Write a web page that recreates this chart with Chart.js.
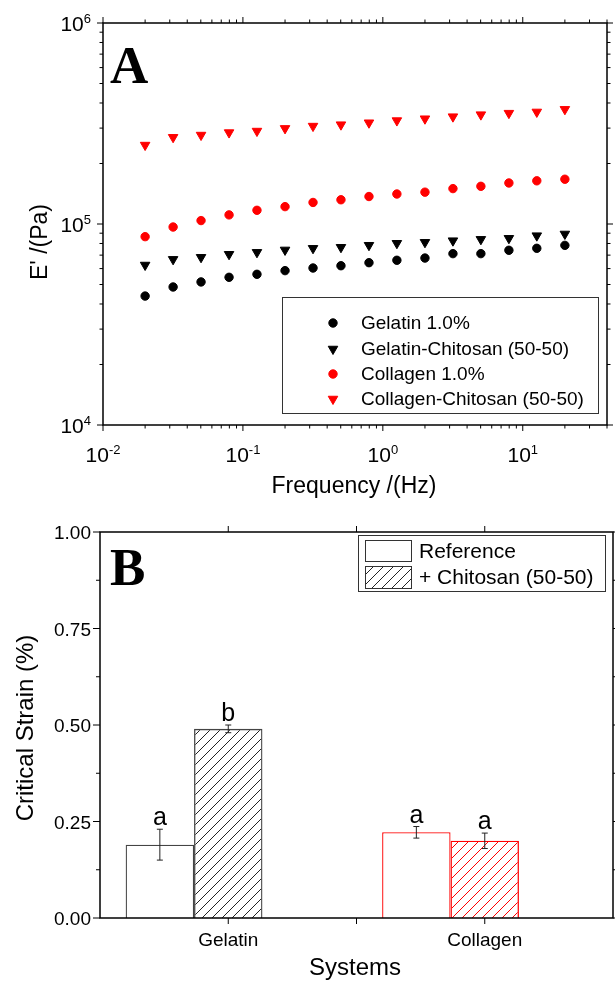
<!DOCTYPE html>
<html>
<head>
<meta charset="utf-8">
<script src="https://cdn.jsdelivr.net/npm/chart.js@4.4.1/dist/chart.umd.min.js"></script>
<style>
  html, body { margin: 0; padding: 0; background: #fff; }
  #wrap { position: relative; width: 615px; height: 983px; }
  canvas { position: absolute; left: 0; }
  #chartA { top: 0; }
  #chartB { top: 500px; }
</style>
</head>
<body>
<div id="wrap">
  <canvas id="chartA" width="615" height="500"></canvas>
  <canvas id="chartB" width="615" height="483"></canvas>
</div>
<script>
// Panel A - storage modulus vs frequency
const freqHz = [0.02, 0.0317, 0.0502, 0.0796, 0.126, 0.2, 0.317, 0.502, 0.796, 1.26, 2.0, 3.17, 5.02, 7.96, 12.6, 20.0];
const gelatin = [43800, 48600, 51500, 54300, 56200, 58600, 60400, 62000, 64200, 66000, 67700, 71200, 71200, 74000, 75700, 78300];
const gelatinChitosan = [62500, 66700, 68300, 70700, 72300, 74300, 75700, 76600, 78400, 80200, 81100, 82600, 83900, 84900, 87500, 89200];
const collagen = [86500, 96600, 104000, 111000, 117000, 122000, 128000, 132000, 137000, 141000, 144000, 150000, 154000, 160000, 164000, 167000];
const collagenChitosan = [247000, 270000, 277000, 285000, 290000, 299000, 307000, 312000, 319000, 327000, 334000, 342000, 350000, 356000, 361000, 372000];
const seriesNames = ['Gelatin 1.0%', 'Gelatin-Chitosan (50-50)', 'Collagen 1.0%', 'Collagen-Chitosan (50-50)'];
const freqDecades = [0.01, 0.1, 1, 10];
const modulusDecades = [1e4, 1e5, 1e6];

// Panel B - critical strain
const systems = ['Gelatin', 'Collagen'];
const strainRef = [0.19, 0.222];
const strainChitosan = [0.49, 0.20];
const errRef = [0.04, 0.015];
const errChitosan = [0.01, 0.02];
const lettersRef = ['a', 'a'];
const lettersChitosan = ['b', 'a'];
const strainTicks = [0, 0.25, 0.5, 0.75, 1.0];
const barNames = ['Reference', '+ Chitosan (50-50)'];

const SANS = '"Liberation Sans", Arial, sans-serif';
const SERIF = '"Liberation Serif", "Times New Roman", serif';
const RED = '#ff0000';
const barColors = ['#444444', RED];
const hatchColors = ['#222222', RED];

function line(ctx, x1, y1, x2, y2) {
  ctx.beginPath();
  ctx.moveTo(x1, y1);
  ctx.lineTo(x2, y2);
  ctx.stroke();
}

// "10" with a raised exponent
function powLabel(ctx, exp, x, y, align) {
  const base = '21px ' + SANS, sup = '13px ' + SANS;
  ctx.font = base;
  const w1 = ctx.measureText('10').width;
  ctx.font = sup;
  const w2 = ctx.measureText(String(exp)).width;
  const left = align === 'right' ? x - w1 - w2 : x - (w1 + w2) / 2;
  ctx.textAlign = 'left';
  ctx.textBaseline = 'alphabetic';
  ctx.font = base;
  ctx.fillText('10', left, y);
  ctx.font = sup;
  ctx.fillText(String(exp), left + w1, y - 8);
}

function hatch(color) {
  const s = 10;
  const c = document.createElement('canvas');
  c.width = s; c.height = s;
  const g = c.getContext('2d');
  g.strokeStyle = color;
  g.lineWidth = 1;
  line(g, 0, s, s, 0);
  line(g, -1, 1, 1, -1);
  line(g, s - 1, s + 1, s + 1, s - 1);
  return g.createPattern(c, 'repeat');
}

function serie(label, values, color, style) {
  return {
    label: label,
    data: freqHz.map((f, i) => ({ x: f, y: values[i] })),
    backgroundColor: color,
    borderColor: color,
    borderWidth: 1,
    pointStyle: style,
    pointRadius: style === 'triangle' ? 5.5 : 4.2,
    rotation: style === 'triangle' ? 180 : 0,
    showLine: false
  };
}

// Frame, ticks, labels and legend of panel A
const axesA = {
  id: 'axesA',
  afterDraw(chart) {
    const { ctx, chartArea: a, scales: { x, y } } = chart;
    ctx.save();
    ctx.strokeStyle = '#000';
    ctx.fillStyle = '#000';
    ctx.lineWidth = 1.5;
    ctx.strokeRect(a.left, a.top, a.right - a.left, a.bottom - a.top);

    ctx.lineWidth = 1;
    freqDecades.forEach(d => {
      const px = x.getPixelForValue(d);
      line(ctx, px, a.bottom, px, a.bottom + 6);
      line(ctx, px, a.top, px, a.top - 6);
      for (let m = 2; m <= 9; m++) {
        const v = d * m;
        if (v > 40) break;
        const mx = x.getPixelForValue(v);
        line(ctx, mx, a.bottom, mx, a.bottom + 3.5);
        line(ctx, mx, a.top, mx, a.top - 3.5);
      }
    });
    modulusDecades.forEach(d => {
      const py = y.getPixelForValue(d);
      line(ctx, a.left, py, a.left - 6, py);
      line(ctx, a.right, py, a.right + 6, py);
      if (d < 1e6) {
        for (let m = 2; m <= 9; m++) {
          const my = y.getPixelForValue(d * m);
          line(ctx, a.left, my, a.left - 3.5, my);
          line(ctx, a.right, my, a.right + 3.5, my);
        }
      }
    });

    freqDecades.forEach(d => powLabel(ctx, Math.round(Math.log10(d)), x.getPixelForValue(d), 462, 'center'));
    modulusDecades.forEach(d => powLabel(ctx, Math.round(Math.log10(d)), 91, y.getPixelForValue(d) + 7.5, 'right'));

    // axis titles
    ctx.font = '23px ' + SANS;
    ctx.textAlign = 'center';
    ctx.textBaseline = 'alphabetic';
    ctx.fillText('Frequency /(Hz)', 354, 493);
    ctx.save();
    ctx.translate(47, 242);
    ctx.rotate(-Math.PI / 2);
    ctx.fillText("E' /(Pa)", 0, 0);
    ctx.restore();

    ctx.font = 'bold 53px ' + SERIF;
    ctx.textAlign = 'left';
    ctx.fillText('A', 110, 83);

    // legend
    ctx.fillStyle = '#fff';
    ctx.fillRect(282, 297, 317, 117);
    ctx.strokeStyle = '#333';
    ctx.strokeRect(282.5, 297.5, 316, 116);
    const rows = [323, 349, 374, 399];
    chart.data.datasets.forEach((ds, i) => {
      ctx.fillStyle = ds.backgroundColor;
      ctx.strokeStyle = ds.borderColor;
      Chart.helpers.drawPoint(ctx, {
        pointStyle: ds.pointStyle,
        radius: ds.pointRadius,
        rotation: ds.rotation,
        borderWidth: 1
      }, 333, rows[i]);
      ctx.fillStyle = '#000';
      ctx.font = '19px ' + SANS;
      ctx.textAlign = 'left';
      ctx.textBaseline = 'middle';
      ctx.fillText(seriesNames[i], 361, rows[i] + 1);
    });
    ctx.restore();
  }
};

new Chart(document.getElementById('chartA'), {
  type: 'scatter',
  data: {
    datasets: [
      serie(seriesNames[0], gelatin, '#000', 'circle'),
      serie(seriesNames[1], gelatinChitosan, '#000', 'triangle'),
      serie(seriesNames[2], collagen, RED, 'circle'),
      serie(seriesNames[3], collagenChitosan, RED, 'triangle')
    ]
  },
  options: {
    responsive: false,
    animation: false,
    layout: { padding: { left: 103, top: 23, right: 8, bottom: 75 } },
    scales: {
      x: { type: 'logarithmic', min: 0.01, max: 40, display: false },
      y: { type: 'logarithmic', min: 1e4, max: 1e6, display: false }
    },
    plugins: { legend: { display: false }, tooltip: { enabled: false } }
  },
  plugins: [axesA]
});

// Frame, error bars, letters and legend of panel B
const axesB = {
  id: 'axesB',
  afterDraw(chart) {
    const { ctx, chartArea: a, scales: { x, y } } = chart;
    ctx.save();
    ctx.strokeStyle = '#000';
    ctx.fillStyle = '#000';
    ctx.lineWidth = 1.5;
    ctx.strokeRect(a.left, a.top, a.right - a.left, a.bottom - a.top);

    ctx.lineWidth = 1;
    const half = (x.getPixelForValue(1) - x.getPixelForValue(0)) / 2;
    const xt = [x.getPixelForValue(0), x.getPixelForValue(0) + half, x.getPixelForValue(1)];
    xt.forEach(px => {
      line(ctx, px, a.bottom, px, a.bottom + 6);
      line(ctx, px, a.top, px, a.top - 6);
    });
    strainTicks.forEach((v, i) => {
      const py = y.getPixelForValue(v);
      line(ctx, a.left, py, a.left - 7, py);
      line(ctx, a.right, py, a.right + 7, py);
      if (i < strainTicks.length - 1) {
        const my = y.getPixelForValue((v + strainTicks[i + 1]) / 2);
        line(ctx, a.left, my, a.left - 4, my);
        line(ctx, a.right, my, a.right + 4, my);
      }
    });

    ctx.font = '19px ' + SANS;
    ctx.textAlign = 'right';
    ctx.textBaseline = 'alphabetic';
    strainTicks.forEach(v => ctx.fillText(v.toFixed(2), 91, y.getPixelForValue(v) + 7));
    ctx.textAlign = 'center';
    systems.forEach((s, i) => ctx.fillText(s, x.getPixelForValue(i), 446));

    // error bars and group letters
    const errs = [errRef, errChitosan];
    const vals = [strainRef, strainChitosan];
    const letters = [lettersRef, lettersChitosan];
    [0, 1].forEach(d => {
      chart.getDatasetMeta(d).data.forEach((bar, j) => {
        const top = y.getPixelForValue(vals[d][j] + errs[d][j]);
        const bot = y.getPixelForValue(vals[d][j] - errs[d][j]);
        ctx.strokeStyle = '#222';
        ctx.lineWidth = 1;
        line(ctx, bar.x, top, bar.x, bot);
        line(ctx, bar.x - 3, top, bar.x + 3, top);
        line(ctx, bar.x - 3, bot, bar.x + 3, bot);
        ctx.fillStyle = '#000';
        ctx.font = '25px ' + SANS;
        ctx.textAlign = 'center';
        ctx.fillText(letters[d][j], bar.x, top - 4);
      });
    });

    // axis titles
    ctx.font = '24px ' + SANS;
    ctx.fillText('Systems', 355, 475);
    ctx.save();
    ctx.translate(33, 228);
    ctx.rotate(-Math.PI / 2);
    ctx.fillText('Critical Strain (%)', 0, 0);
    ctx.restore();

    ctx.font = 'bold 53px ' + SERIF;
    ctx.textAlign = 'left';
    ctx.fillText('B', 110, 85);

    // legend
    ctx.strokeStyle = '#333';
    ctx.lineWidth = 1;
    ctx.fillStyle = '#fff';
    ctx.fillRect(358, 35, 248, 57);
    ctx.strokeRect(358.5, 35.5, 247, 56);
    ctx.fillStyle = '#fff';
    ctx.fillRect(365, 40, 47, 22);
    ctx.strokeRect(365.5, 40.5, 46, 21);
    ctx.fillStyle = hatch('#222');
    ctx.fillRect(365, 66, 47, 23);
    ctx.strokeRect(365.5, 66.5, 46, 22);
    ctx.fillStyle = '#000';
    ctx.font = '21px ' + SANS;
    ctx.textAlign = 'left';
    ctx.textBaseline = 'middle';
    ctx.fillText(barNames[0], 419, 52);
    ctx.fillText(barNames[1], 419, 78);
    ctx.restore();
  }
};

new Chart(document.getElementById('chartB'), {
  type: 'bar',
  data: {
    labels: systems,
    datasets: [
      { label: barNames[0], data: strainRef, backgroundColor: '#fff', borderColor: barColors, borderWidth: 1.3 },
      { label: barNames[1], data: strainChitosan, backgroundColor: hatchColors.map(hatch), borderColor: barColors, borderWidth: 1.3 },
      // empty third slot so the hatched bar sits on the category tick
      { label: '', data: [null, null] }
    ]
  },
  options: {
    responsive: false,
    animation: false,
    categoryPercentage: 0.8,
    barPercentage: 1.0,
    layout: { padding: { left: 100, top: 32, right: 2, bottom: 65 } },
    scales: {
      x: { display: false, offset: true },
      y: { min: 0, max: 1, display: false }
    },
    plugins: { legend: { display: false }, tooltip: { enabled: false } }
  },
  plugins: [axesB]
});
</script>
</body>
</html>
